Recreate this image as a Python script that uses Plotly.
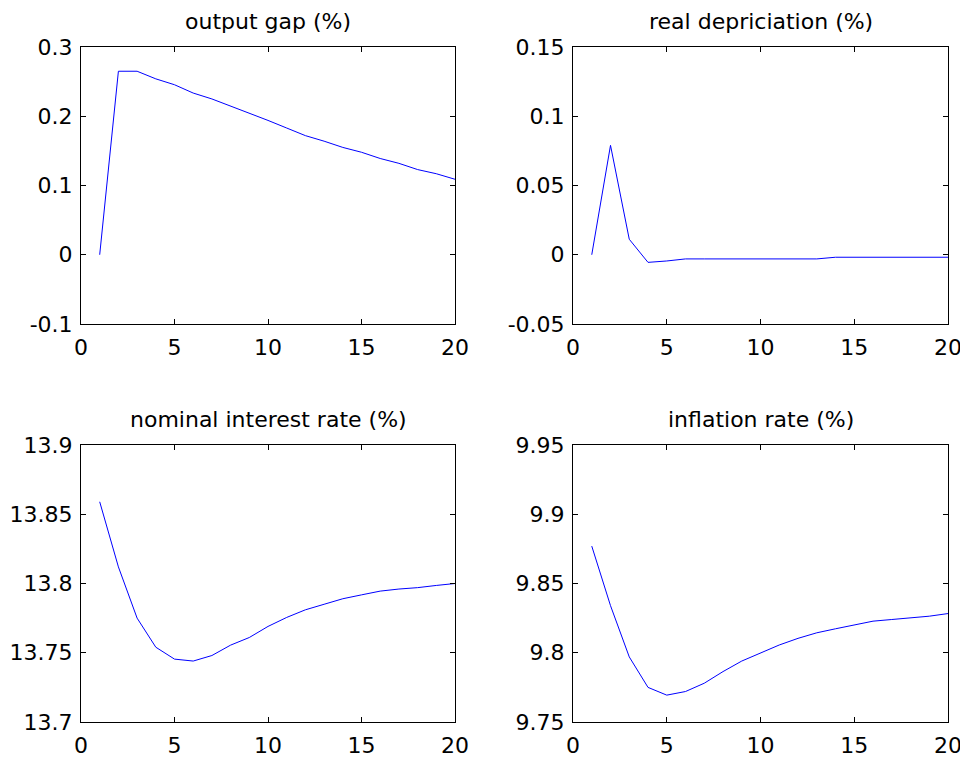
import plotly.graph_objects as go

periods = list(range(1, 21))

output_gap = [0.0, 0.265, 0.265, 0.254, 0.2455, 0.2335, 0.225, 0.215, 0.204, 0.194,
              0.183, 0.172, 0.164, 0.155, 0.148, 0.139, 0.132, 0.123, 0.117, 0.109]
real_dep = [0.0, 0.079, 0.0112, -0.0055, -0.0045, -0.003, -0.003, -0.003, -0.003, -0.003,
            -0.003, -0.003, -0.003, -0.0018, -0.0018, -0.0018, -0.0018, -0.0018, -0.0018, -0.0018]
nominal_rate = [13.859, 13.812, 13.775, 13.754, 13.7454, 13.744, 13.748, 13.7555, 13.761, 13.769,
                13.7755, 13.781, 13.785, 13.789, 13.7918, 13.7945, 13.796, 13.797, 13.7986, 13.80]
inflation = [9.877, 9.834, 9.797, 9.775, 9.7694, 9.772, 9.778, 9.7864, 9.794, 9.7996,
             9.8056, 9.8104, 9.8144, 9.8173, 9.82, 9.8228, 9.824, 9.8252, 9.8264, 9.8283]

titles = ["output gap (%)", "real depriciation (%)", "nominal interest rate (%)", "inflation rate (%)"]
series = [output_gap, real_dep, nominal_rate, inflation]
y_ranges = [[-0.1, 0.3], [-0.05, 0.15], [13.7, 13.9], [9.75, 9.95]]
y_ticks = [[-0.1, 0, 0.1, 0.2, 0.3], [-0.05, 0, 0.05, 0.1, 0.15],
           [13.7, 13.75, 13.8, 13.85, 13.9], [9.75, 9.8, 9.85, 9.9, 9.95]]
y_ticktext = [["-0.1", "0", "0.1", "0.2", "0.3"], ["-0.05", "0", "0.05", "0.1", "0.15"],
              ["13.7", "13.75", "13.8", "13.85", "13.9"], ["9.75", "9.8", "9.85", "9.9", "9.95"]]
x_ticks = [0, 5, 10, 15, 20]

# page is 968x765; the figure div sits inside an 8px body margin
OFF = 8
W, H = 968 - OFF, 765 - 2 * OFF
# pixel boxes in page coords (left, right, top, bottom)
boxes = [(81, 455, 47, 324), (573, 948, 47, 324), (81, 455, 445, 722), (573, 948, 445, 722)]

FONT = "DejaVu Sans, Liberation Sans, Arial, sans-serif"
fig = go.Figure()
layout = dict(width=W, height=H, margin=dict(l=0, r=0, t=0, b=0, autoexpand=False),
              paper_bgcolor="white", plot_bgcolor="white", showlegend=False,
              font=dict(family=FONT, color="black", size=22))
annotations = []
for i, (L, R, T, B) in enumerate(boxes):
    L, R, T, B = L - OFF, R - OFF, T - OFF, B - OFF
    n = i + 1
    xa = f"x{n if n > 1 else ''}"
    ya = f"y{n if n > 1 else ''}"
    fig.add_trace(go.Scatter(x=periods, y=series[i], mode="lines",
                             line=dict(color="#0000ff", width=1),
                             xaxis=xa, yaxis=ya, hoverinfo="skip"))
    axis_common = dict(showline=True, linecolor="black", linewidth=1, mirror="allticks",
                       ticks="inside", ticklen=5, tickcolor="black", tickwidth=1,
                       showgrid=False, zeroline=False, automargin=False,
                       tickfont=dict(family=FONT, size=22, color="black"))
    layout[f"xaxis{n if n > 1 else ''}"] = dict(axis_common, domain=[L / W, R / W], range=[0, 20],
                                                 tickvals=x_ticks, anchor=ya, ticklabelstandoff=4)
    layout[f"yaxis{n if n > 1 else ''}"] = dict(axis_common, domain=[1 - B / H, 1 - T / H],
                                                 range=y_ranges[i], tickvals=y_ticks[i],
                                                 ticktext=y_ticktext[i], anchor=xa,
                                                 ticklabelstandoff=3)
    annotations.append(dict(text=titles[i], x=(L + R) / 2 / W, y=1 - (T - 11) / H,
                            xref="paper", yref="paper", xanchor="center", yanchor="bottom",
                            showarrow=False, font=dict(family=FONT, size=22, color="black")))
layout["annotations"] = annotations
fig.update_layout(**layout)
fig.write_html("out.html")
